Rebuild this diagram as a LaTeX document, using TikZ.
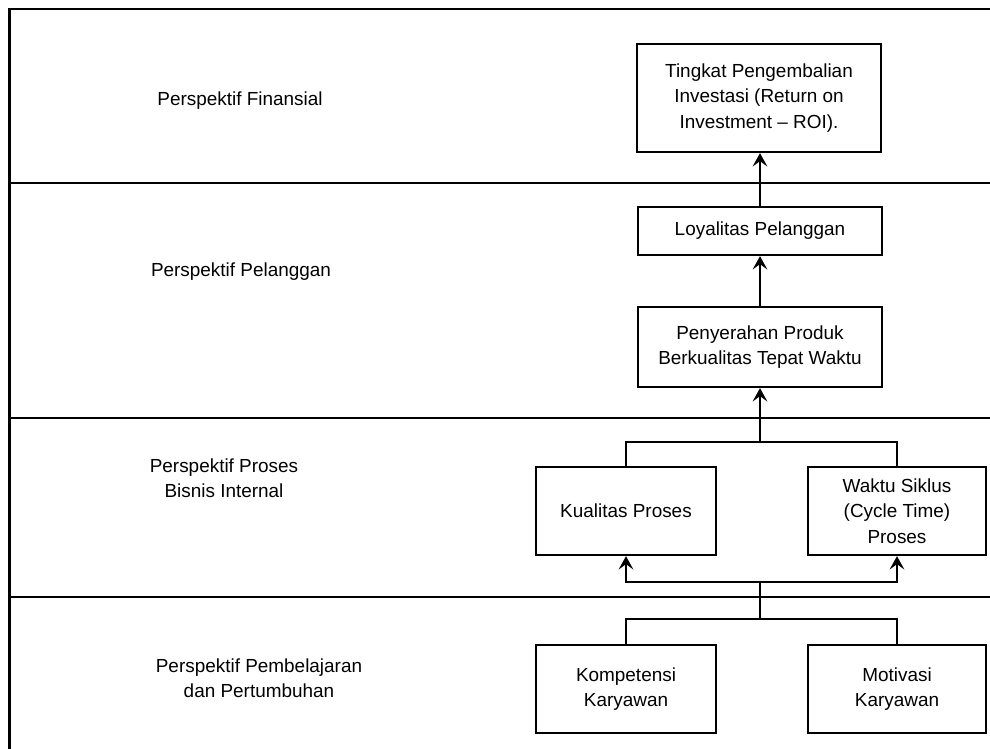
\documentclass[tikz,border=0pt]{standalone}
\usepackage{fontspec}
\setmainfont{Liberation Sans}
\usetikzlibrary{arrows.meta}
\begin{document}
\begin{tikzpicture}[x=0.75pt,y=-0.75pt,
  every node/.style={font=\fontsize{14.2}{19}\selectfont, align=center},
  frameline/.style={line width=1.7pt},
  box/.style={draw, line width=1.7pt, rectangle, inner sep=2pt},
  conn/.style={line width=1.7pt},
  arr/.style={conn, -{Stealth[length=10pt,width=11pt,inset=4pt]}}]
\useasboundingbox (0,0) rectangle (990,749);

% swimlane frame and dividers
\draw[frameline] (9.5,749) -- (9.5,9) -- (990,9);
\draw[frameline] (9.5,183) -- (990,183);
\draw[frameline] (9.5,418) -- (990,418);
\draw[frameline] (9.5,597) -- (990,597);

% lane titles
\node (lf) at (240,101) {Perspektif Finansial};
\node (lp) at (241,272) {Perspektif Pelanggan};
\node (li) at (224,478) {Perspektif Proses\\Bisnis Internal};
\node (ll) at (259,678) {Perspektif Pembelajaran\\dan Pertumbuhan};

% measures
\node[box, minimum width=183pt, minimum height=81pt] (roi) at (759,98)
  {Tingkat Pengembalian\\Investasi (Return on\\Investment -- ROI).};
\node[box, minimum width=183pt, minimum height=36pt] (loy) at (760,231)
  {Loyalitas Pelanggan};
\node[box, minimum width=183pt, minimum height=60pt] (pen) at (760,347)
  {Penyerahan Produk\\Berkualitas Tepat Waktu};
\node[box, minimum width=135pt, minimum height=66pt] (kua) at (626,511)
  {Kualitas Proses};
\node[box, minimum width=133pt, minimum height=66pt] (wak) at (897,511)
  {Waktu Siklus\\(Cycle Time)\\Proses};
\node[box, minimum width=135pt, minimum height=66pt] (kom) at (626,689)
  {Kompetensi\\Karyawan};
\node[box, minimum width=133pt, minimum height=66pt] (mot) at (897,689)
  {Motivasi\\Karyawan};

% junction points
\coordinate (busU) at (760,442);
\coordinate (busL) at (760,582);
\coordinate (busB) at (760,619);

% connectors
\draw[arr] (loy.north) -- (loy.north |- roi.south);
\draw[arr] (pen.north) -- (loy.south);
\draw[conn] (kua.north) |- (busU) -| (wak.north);
\draw[arr] (busU) -- (pen.south);
\draw[arr] (busL) -| (kua.south);
\draw[arr] (busL) -| (wak.south);
\draw[conn] (busB) -- (busL);
\draw[conn] (kom.north) |- (busB) -| (mot.north);
\end{tikzpicture}
\end{document}
